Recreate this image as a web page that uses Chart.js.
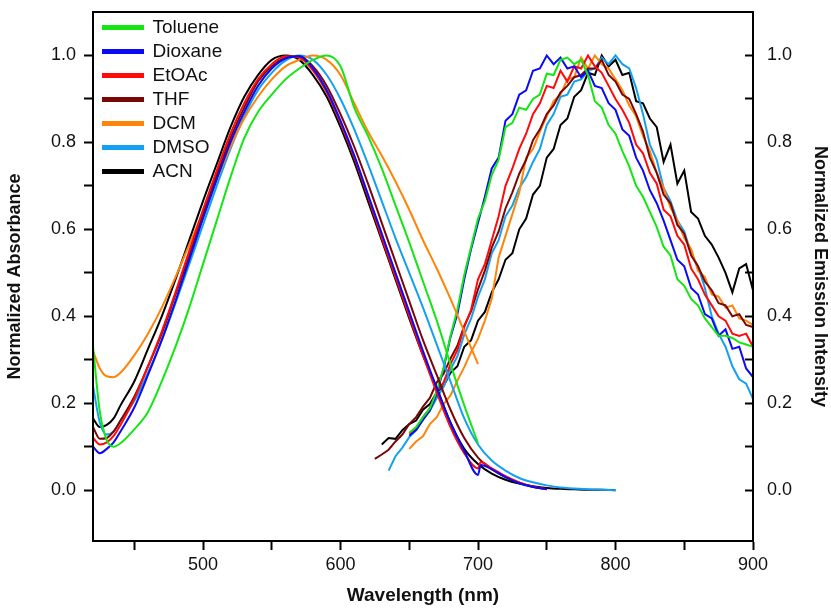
<!DOCTYPE html>
<html>
<head>
<meta charset="utf-8">
<script src="https://cdn.jsdelivr.net/npm/chart.js@4.4.1/dist/chart.umd.min.js"></script>
<style>
  html, body { margin: 0; padding: 0; background: #fff; }
  #wrap { width: 831px; height: 609px; }
</style>
</head>
<body>
<div id="wrap"><canvas id="specChart" width="831" height="609"></canvas></div>
<script>
const solvents = ["Toluene", "Dioxane", "EtOAc", "THF", "DCM", "DMSO", "ACN"];
const colors = ["#14e614", "#0a0af5", "#ff0a0a", "#7a0606", "#ff840a", "#14a0f0", "#000000"];

// absorbance, wavelength grid (nm)
const absWl = [420, 425, 430, 435, 440, 450, 460, 470, 480, 490, 500, 510, 520, 530, 540, 550, 560, 570, 580, 590,
  600, 610, 620, 630, 640, 650, 660, 670, 680, 690, 700, 702, 710, 720, 730, 740, 750, 760, 770, 780, 790, 800];

const absToluene = [0.33, 0.18, 0.115, 0.10, 0.108, 0.14, 0.18, 0.25, 0.33, 0.42, 0.52, 0.62, 0.72, 0.81, 0.87, 0.91, 0.945, 0.97, 0.99, 1.0,
  0.975, 0.88, 0.815, 0.74, 0.655, 0.57, 0.48, 0.39, 0.29, 0.195, 0.108];
const absDioxane = [0.10, 0.085, 0.095, 0.11, 0.135, 0.19, 0.265, 0.345, 0.435, 0.53, 0.625, 0.715, 0.80, 0.87, 0.93, 0.97, 0.993, 0.998, 0.97, 0.92,
  0.85, 0.77, 0.68, 0.59, 0.50, 0.41, 0.32, 0.235, 0.155, 0.09, 0.035, 0.058, 0.048, 0.03, 0.016, 0.007, 0.002];
const absEtOAc = [0.12, 0.105, 0.11, 0.125, 0.15, 0.21, 0.285, 0.365, 0.455, 0.55, 0.645, 0.735, 0.82, 0.89, 0.945, 0.98, 0.998, 0.995, 0.965, 0.915,
  0.845, 0.765, 0.675, 0.58, 0.49, 0.40, 0.31, 0.225, 0.145, 0.085, 0.05, 0.065, 0.05, 0.032, 0.018, 0.008, 0.002];
const absTHF = [0.145, 0.118, 0.12, 0.135, 0.16, 0.215, 0.285, 0.36, 0.45, 0.54, 0.635, 0.725, 0.81, 0.88, 0.94, 0.975, 0.995, 0.998, 0.975, 0.93,
  0.865, 0.79, 0.705, 0.615, 0.525, 0.435, 0.345, 0.265, 0.185, 0.12, 0.075, null, 0.048, 0.03, 0.017, 0.008, 0.003];
const absDCM = [0.32, 0.28, 0.262, 0.26, 0.27, 0.31, 0.36, 0.42, 0.49, 0.565, 0.64, 0.715, 0.79, 0.855, 0.905, 0.945, 0.975, 0.99, 1.0, 0.99,
  0.955, 0.89, 0.825, 0.77, 0.71, 0.645, 0.575, 0.51, 0.44, 0.365, 0.29];
const absDMSO = [0.24, 0.155, 0.128, 0.135, 0.16, 0.205, 0.27, 0.345, 0.43, 0.52, 0.61, 0.70, 0.785, 0.86, 0.92, 0.96, 0.988, 1.0, 0.99, 0.955,
  0.90, 0.83, 0.75, 0.665, 0.58, 0.50, 0.42, 0.335, 0.25, 0.165, 0.105, null, 0.068, 0.045, 0.028, 0.018, 0.011, 0.006, 0.004, 0.002, 0.001, 0.0];
const absACN = [0.165, 0.145, 0.15, 0.165, 0.195, 0.25, 0.325, 0.40, 0.485, 0.575, 0.665, 0.75, 0.835, 0.905, 0.955, 0.99, 1.0, 0.99, 0.955, 0.905,
  0.835, 0.755, 0.665, 0.575, 0.485, 0.395, 0.31, 0.235, 0.155, 0.095, 0.06, null, 0.038, 0.024, 0.015, 0.009, 0.005, 0.003, 0.002, 0.001, 0.001, 0.0];

// emission, 5 nm grid from 625 to 900
const emWl = [625, 630, 635, 640, 645, 650, 655, 660, 665, 670, 675, 680, 685, 690, 695, 700, 705, 710, 715, 720,
  725, 730, 735, 740, 745, 750, 755, 760, 765, 770, 775, 780, 785, 790, 795, 800, 805, 810, 815, 820,
  825, 830, 835, 840, 845, 850, 855, 860, 865, 870, 875, 880, 885, 890, 895, 900];

const emToluene = [null, null, null, null, null, 0.132, 0.145, 0.168, 0.188, 0.228, 0.282, 0.355, 0.415, 0.495, 0.56, 0.625, 0.665, 0.725, 0.76, 0.835,
  0.845, 0.88, 0.875, 0.9, 0.91, 0.958, 0.955, 0.99, 0.995, 0.98, 0.99, 0.955, 0.895, 0.88, 0.84, 0.82, 0.78, 0.745, 0.70, 0.675,
  0.64, 0.605, 0.56, 0.54, 0.485, 0.47, 0.44, 0.425, 0.395, 0.375, 0.355, 0.355, 0.35, 0.34, 0.335, 0.33];
const emDioxane = [null, null, null, null, null, 0.125, 0.138, 0.162, 0.183, 0.222, 0.28, 0.352, 0.405, 0.485, 0.555, 0.615, 0.675, 0.74, 0.765, 0.85,
  0.865, 0.91, 0.92, 0.965, 0.97, 1.0, 0.98, 0.995, 0.97, 0.975, 0.95, 0.965, 0.93, 0.925, 0.89, 0.875, 0.83, 0.815, 0.765, 0.735,
  0.69, 0.66, 0.62, 0.575, 0.53, 0.515, 0.465, 0.45, 0.405, 0.395, 0.355, 0.37, 0.325, 0.33, 0.28, 0.26];
const emEtOAc = [null, null, null, null, null, 0.13, 0.142, 0.168, 0.188, 0.225, 0.248, 0.29, 0.322, 0.375, 0.415, 0.485, 0.52, 0.575, 0.63, 0.70,
  0.74, 0.785, 0.82, 0.865, 0.89, 0.93, 0.925, 0.965, 0.94, 0.975, 0.97, 1.0, 0.975, 0.96, 0.93, 0.90, 0.875, 0.845, 0.795, 0.775,
  0.73, 0.705, 0.645, 0.63, 0.585, 0.565, 0.51, 0.485, 0.45, 0.425, 0.40, 0.39, 0.36, 0.355, 0.36, 0.33];
const emTHF = [0.072, 0.082, 0.093, 0.112, 0.128, 0.152, 0.168, 0.192, 0.212, 0.248, 0.268, 0.303, 0.332, 0.378, 0.412, 0.462, 0.505, 0.558, 0.595, 0.648,
  0.685, 0.728, 0.76, 0.805, 0.83, 0.865, 0.885, 0.915, 0.93, 0.95, 0.955, 0.97, 0.97, 0.99, 0.955, 0.94, 0.91, 0.9, 0.865, 0.825,
  0.765, 0.73, 0.68, 0.66, 0.61, 0.59, 0.54, 0.515, 0.48, 0.46, 0.43, 0.425, 0.40, 0.405, 0.38, 0.375];
const emDCM = [null, null, null, null, null, 0.095, 0.112, 0.124, 0.152, 0.168, 0.198, 0.218, 0.252, 0.283, 0.318, 0.348, 0.39, 0.44, 0.535, 0.585,
  0.635, 0.685, 0.765, 0.785, 0.825, 0.86, 0.895, 0.91, 0.945, 0.95, 0.995, 0.97, 1.0, 0.98, 0.97, 0.945, 0.92, 0.885, 0.86, 0.815,
  0.78, 0.73, 0.695, 0.65, 0.62, 0.58, 0.555, 0.505, 0.49, 0.45, 0.445, 0.42, 0.425, 0.395, 0.39, 0.38];
const emDMSO = [null, null, 0.045, 0.078, 0.098, 0.122, 0.138, 0.162, 0.183, 0.212, 0.238, 0.278, 0.308, 0.358, 0.395, 0.445, 0.485, 0.545, 0.575, 0.63,
  0.655, 0.695, 0.72, 0.755, 0.785, 0.84, 0.865, 0.905, 0.91, 0.94, 0.945, 0.965, 0.97, 0.995, 0.98, 1.0, 0.98, 0.97, 0.925, 0.865,
  0.795, 0.76, 0.695, 0.665, 0.62, 0.595, 0.545, 0.515, 0.465, 0.40, 0.36, 0.33, 0.285, 0.255, 0.245, 0.21];
const emACN = [null, 0.105, 0.12, 0.118, 0.138, 0.152, 0.16, 0.185, 0.198, 0.225, 0.24, 0.27, 0.285, 0.33, 0.345, 0.39, 0.41, 0.455, 0.485, 0.53,
  0.545, 0.60, 0.625, 0.68, 0.70, 0.765, 0.785, 0.84, 0.855, 0.905, 0.92, 0.96, 0.955, 1.0, 0.975, 0.99, 0.955, 0.96, 0.895, 0.89,
  0.855, 0.835, 0.755, 0.795, 0.705, 0.735, 0.64, 0.625, 0.585, 0.565, 0.535, 0.50, 0.455, 0.51, 0.52, 0.46];

const absSeries = [absToluene, absDioxane, absEtOAc, absTHF, absDCM, absDMSO, absACN];
const emSeries = [emToluene, emDioxane, emEtOAc, emTHF, emDCM, emDMSO, emACN];

const FONT = "'Liberation Sans', Arial, sans-serif";

function toPoints(xs, ys) {
  return xs.map((x, i) => ({ x: x, y: ys[i] })).filter((p) => p.y !== null && p.y !== undefined);
}

const datasets = [];
absSeries.forEach((arr, i) => {
  datasets.push({
    label: solvents[i],
    data: toPoints(absWl, arr),
    borderColor: colors[i],
    backgroundColor: colors[i],
    borderWidth: 2,
    pointRadius: 0,
    cubicInterpolationMode: "monotone",
    yAxisID: "y",
  });
});
emSeries.forEach((arr, i) => {
  datasets.push({
    label: solvents[i] + " em",
    data: toPoints(emWl, arr),
    borderColor: colors[i],
    backgroundColor: colors[i],
    borderWidth: 2,
    pointRadius: 0,
    tension: 0,
    yAxisID: "y2",
  });
});

// box around the plot area, and the legend moved inside it
const frame = {
  id: "frame",
  afterLayout(chart) {
    const lg = chart.legend;
    const a = chart.chartArea;
    const w = lg.right - lg.left;
    const h = lg.bottom - lg.top;
    lg.left = a.left + 5;
    lg.right = lg.left + w;
    lg.top = a.top + 1;
    lg.bottom = lg.top + h;
  },
  afterDatasetsDraw(chart) {
    const a = chart.chartArea;
    const ctx = chart.ctx;
    ctx.save();
    ctx.strokeStyle = "#000";
    ctx.lineWidth = 2;
    ctx.strokeRect(a.left, a.top, a.right - a.left, a.bottom - a.top);
    ctx.restore();
  },
};

const yTickLabel = (v) => (Math.round(v * 10) % 2 === 0 ? v.toFixed(1) : "");
const keepY = (scale) => {
  scale.ticks = scale.ticks.filter((t) => t.value > -0.01 && t.value < 1.05);
};
const fitY = (w) => (scale) => {
  scale.width = w;
  scale.paddingTop = 0;
  scale.paddingBottom = 0;
};

new Chart(document.getElementById("specChart").getContext("2d"), {
  type: "line",
  data: { datasets: datasets },
  options: {
    responsive: false,
    animation: false,
    devicePixelRatio: 1,
    layout: { padding: { top: 12, left: 0, right: 0, bottom: 0 } },
    plugins: {
      legend: {
        position: "chartArea",
        align: "start",
        labels: {
          boxWidth: 40,
          boxHeight: 3,
          padding: 5,
          color: "#111",
          font: { family: FONT, size: 19 },
          filter: (item) => item.datasetIndex < 7,
        },
      },
      tooltip: { enabled: false },
    },
    scales: {
      x: {
        type: "linear",
        min: 420,
        max: 900,
        ticks: {
          stepSize: 50,
          includeBounds: false,
          color: "#111",
          font: { family: FONT, size: 18 },
          padding: 4,
          maxRotation: 0,
          autoSkip: false,
          callback: (v) => (v % 100 === 0 ? String(v) : ""),
        },
        afterBuildTicks: (scale) => {
          scale.ticks = scale.ticks.filter((t) => t.value >= 450);
        },
        afterFit: (scale) => {
          scale.height = 68;
          scale.paddingLeft = 0;
          scale.paddingRight = 0;
        },
        grid: { drawOnChartArea: false, tickLength: 9, tickWidth: 2, tickColor: "#000" },
        border: { color: "#000", width: 2 },
        title: {
          display: true,
          text: "Wavelength (nm)",
          color: "#111",
          font: { family: FONT, size: 19, weight: "bold" },
          padding: { top: 0, bottom: 2 },
        },
      },
      y: {
        position: "left",
        min: -0.117,
        max: 1.1,
        ticks: {
          stepSize: 0.1,
          includeBounds: false,
          color: "#111",
          font: { family: FONT, size: 18 },
          padding: 8,
          autoSkip: false,
          callback: yTickLabel,
        },
        afterBuildTicks: keepY,
        afterFit: fitY(93),
        grid: { drawOnChartArea: false, tickLength: 9, tickWidth: 2, tickColor: "#000" },
        border: { color: "#000", width: 2 },
        title: {
          display: true,
          text: "Normalized Absorbance",
          color: "#111",
          font: { family: FONT, size: 18, weight: "bold" },
          padding: { top: 4, bottom: 0 },
        },
      },
      y2: {
        position: "right",
        min: -0.117,
        max: 1.1,
        ticks: {
          stepSize: 0.1,
          includeBounds: false,
          color: "#111",
          font: { family: FONT, size: 18 },
          padding: 22,
          autoSkip: false,
          callback: yTickLabel,
        },
        afterBuildTicks: keepY,
        afterFit: fitY(78),
        grid: { drawOnChartArea: false, tickLength: -8, tickWidth: 2, tickColor: "#000" },
        border: { color: "#000", width: 2 },
        title: {
          display: true,
          text: "Normalized Emission Intensity",
          color: "#111",
          font: { family: FONT, size: 18, weight: "bold" },
          padding: { top: 0, bottom: 2 },
        },
      },
    },
  },
  plugins: [frame],
});
</script>
</body>
</html>
